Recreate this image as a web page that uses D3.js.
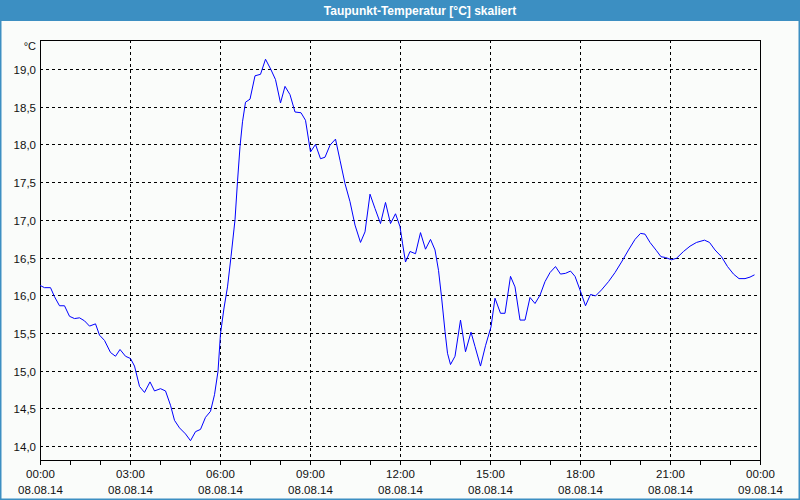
<!DOCTYPE html>
<html><head><meta charset="utf-8">
<script src="https://cdn.jsdelivr.net/npm/d3@7"></script>
<style>
html,body{margin:0;padding:0;background:#fafcfa;}
svg{display:block;}
</style></head>
<body>
<svg id="chart" width="800" height="500"></svg>
<script>
const title = "Taupunkt-Temperatur [°C] skaliert";
const unitLabel = "°C";
// minutes since 08.08.14 00:00
const times = [0,9,21,29,39,49,59,69,79,89,99,111,119,129,141,151,160,171,181,189,199,209,220,229,241,251,261,269,279,291,301,311,321,331,341,349,356,361,368,375,382,390,395,400,405,411,420,430,441,451,462,471,481,490,500,510,522,531,541,551,561,570,580,591,600,610,620,630,641,650,660,670,681,691,701,711,720,725,731,740,751,761,771,781,790,797,803,810,815,821,830,841,851,862,870,881,891,902,910,921,930,941,950,960,970,980,990,1000,1010,1020,1031,1041,1051,1061,1070,1080,1091,1101,1111,1123,1137,1150,1163,1177,1190,1201,1210,1220,1233,1242,1251,1263,1273,1287,1300,1313,1329,1339,1350,1363,1375,1387,1398,1410,1420,1429];
const values = [16.13,16.10,16.10,15.98,15.86,15.86,15.72,15.69,15.70,15.66,15.59,15.62,15.47,15.40,15.24,15.19,15.28,15.19,15.16,15.06,14.79,14.71,14.85,14.73,14.76,14.73,14.54,14.34,14.24,14.16,14.07,14.19,14.22,14.38,14.46,14.68,14.99,15.49,15.83,16.11,16.51,17.00,17.51,17.97,18.30,18.56,18.60,18.91,18.93,19.13,18.99,18.86,18.55,18.77,18.66,18.43,18.42,18.32,17.90,18.00,17.81,17.83,17.99,18.07,17.79,17.48,17.24,16.93,16.70,16.84,17.34,17.15,16.95,17.23,16.95,17.08,16.91,16.69,16.44,16.58,16.55,16.83,16.61,16.74,16.60,16.33,15.98,15.52,15.23,15.08,15.19,15.67,15.25,15.51,15.32,15.06,15.33,15.58,15.96,15.76,15.76,16.25,16.11,15.67,15.67,15.97,15.89,16.00,16.18,16.30,16.38,16.28,16.29,16.32,16.25,16.07,15.86,16.01,15.99,16.07,16.18,16.30,16.44,16.60,16.74,16.82,16.81,16.70,16.59,16.51,16.50,16.47,16.49,16.58,16.65,16.70,16.73,16.70,16.60,16.51,16.38,16.28,16.22,16.22,16.24,16.27];
const yTicks = [14.0,14.5,15.0,15.5,16.0,16.5,17.0,17.5,18.0,18.5,19.0];
const xTickHours = [0,3,6,9,12,15,18,21,24];
const xTimeLabels = ["00:00","03:00","06:00","09:00","12:00","15:00","18:00","21:00","00:00"];
const xDateLabels = ["08.08.14","08.08.14","08.08.14","08.08.14","08.08.14","08.08.14","08.08.14","08.08.14","09.08.14"];
const minorHours = d3.range(0,25);

const svg = d3.select("#chart");
const W = 800, H = 500;
const L = 40, R = 760, T = 40, B = 460;
const blue = "#3c8fc2";
const font = "'Liberation Sans', Arial, sans-serif";

svg.append("rect").attr("x",0).attr("y",0).attr("width",W).attr("height",H).attr("fill","#fafcfa");
// border
svg.append("rect").attr("x",0.75).attr("y",0).attr("width",W-1.5).attr("height",H-0.75)
  .attr("fill","none").attr("stroke",blue).attr("stroke-width",1.5);
// title bar
svg.append("rect").attr("x",0).attr("y",0).attr("width",W).attr("height",21).attr("fill",blue);
svg.append("text").attr("x",420).attr("y",14.5).attr("text-anchor","middle")
  .attr("fill","#ffffff").attr("font-family",font).attr("font-weight","bold").attr("font-size","12px")
  .text(title);

const x = d3.scaleLinear().domain([0,24*60]).range([L,R]);
const y = d3.scaleLinear().domain([13.814,19.385]).range([B,T]);

const g = svg.append("g");
// horizontal grid
g.selectAll("line.hg").data(yTicks).enter().append("line")
  .attr("x1",L).attr("x2",R)
  .attr("y1",d=>Math.round(y(d))+0.5).attr("y2",d=>Math.round(y(d))+0.5)
  .attr("stroke","#000").attr("stroke-dasharray","3,3").attr("stroke-width",1);
// vertical grid
g.selectAll("line.vg").data(xTickHours.slice(1,-1)).enter().append("line")
  .attr("y1",T).attr("y2",B)
  .attr("x1",d=>Math.round(x(d*60))+0.5).attr("x2",d=>Math.round(x(d*60))+0.5)
  .attr("stroke","#000").attr("stroke-dasharray","3,3").attr("stroke-width",1);

// frame
svg.append("rect").attr("x",L+0.5).attr("y",T+0.5).attr("width",R-L).attr("height",B-T)
  .attr("fill","none").attr("stroke","#000").attr("stroke-width",1);

// minor ticks
g.selectAll("line.mt").data(minorHours).enter().append("line")
  .attr("x1",d=>Math.round(x(d*60))+0.5).attr("x2",d=>Math.round(x(d*60))+0.5)
  .attr("y1",B).attr("y2",B+5).attr("stroke","#000").attr("stroke-width",1);

// y labels
g.selectAll("text.yl").data(yTicks).enter().append("text")
  .attr("x",36).attr("y",d=>Math.round(y(d))+4.5).attr("text-anchor","end")
  .attr("font-family",font).attr("font-size","11.5px").attr("fill","#111")
  .text(d=>d3.format(".1f")(d).replace(".",","));
svg.append("text").attr("x",36).attr("y",50).attr("text-anchor","end")
  .attr("font-family",font).attr("font-size","11px").attr("fill","#111").text(unitLabel);

// x labels
xTickHours.forEach((h,i)=>{
  const xx = x(h*60)+0.5;
  svg.append("text").attr("x",xx).attr("y",478).attr("text-anchor","middle")
    .attr("font-family",font).attr("font-size","11.5px").attr("fill","#111").text(xTimeLabels[i]);
  svg.append("text").attr("x",xx).attr("y",494).attr("text-anchor","middle")
    .attr("font-family",font).attr("font-size","11.5px").attr("fill","#111").text(xDateLabels[i]);
});

// line
const data = times.map((t,i)=>({t, v: values[i]}));
svg.append("path").datum(data)
  .attr("fill","none").attr("stroke","#0000ff").attr("stroke-width",1)
  .attr("d", d3.line().x(d=>x(d.t)).y(d=>y(d.v)));
</script>
</body></html>
